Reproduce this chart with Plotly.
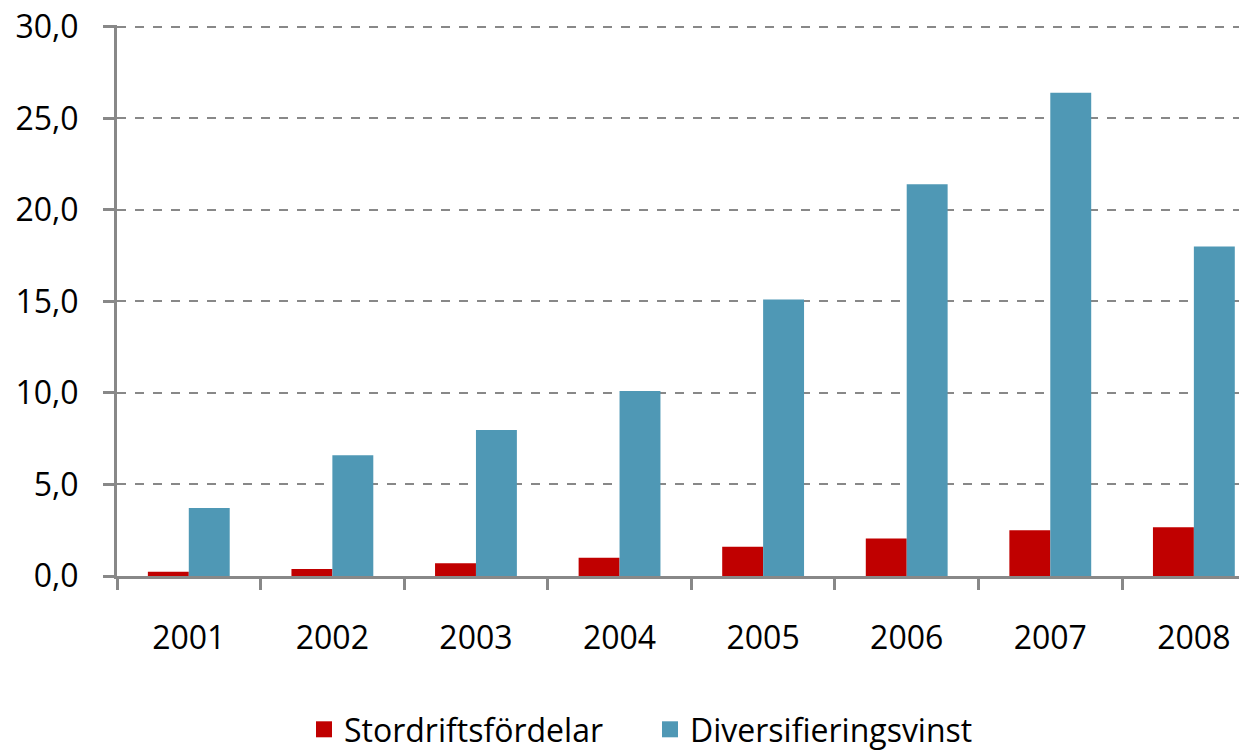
import plotly.graph_objects as go

years = ["2001", "2002", "2003", "2004", "2005", "2006", "2007", "2008"]
stordrift = [0.23, 0.38, 0.69, 1.0, 1.6, 2.05, 2.5, 2.66]
diversifiering = [3.72, 6.6, 7.98, 10.1, 15.1, 21.4, 26.4, 18.0]
series_names = ["Stordriftsfördelar", "Diversifieringsvinst"]
series_colors = ["#C00000", "#4F98B5"]
y_ticks = [0, 5, 10, 15, 20, 25, 30]

font_family = "Open Sans"
grey = "#888888"

# page body has an 8px default margin; size the figure to compensate
W, H = 1239, 743
L, T, B = 109, 17, 175
PLOT_W = W - L
PLOT_H = H - T - B

fig = go.Figure()
for vals, name, col in zip([stordrift, diversifiering], series_names, series_colors):
    fig.add_trace(go.Bar(x=years, y=vals, name=name, showlegend=False,
                         marker=dict(color=col, line=dict(width=0))))
# legend entries with larger square swatches
for name, col in zip(series_names, series_colors):
    fig.add_trace(go.Scatter(x=[None], y=[None], mode="markers", name=name,
                             marker=dict(symbol="square", size=20, color=col)))

fig.update_layout(
    width=W, height=H,
    margin=dict(l=L, r=0, t=T, b=B, autoexpand=False),
    paper_bgcolor="white", plot_bgcolor="white",
    barmode="group", bargap=0.43, bargroupgap=0,
    separators=",.",
    font=dict(family=font_family, size=32, color="black"),
    showlegend=True,
    legend=dict(orientation="h", x=(304 - 117) / PLOT_W, xanchor="left",
                y=-126 / PLOT_H, yanchor="top",
                font=dict(size=32), traceorder="normal",
                entrywidth=301, entrywidthmode="pixels"),
)
fig.update_xaxes(
    type="category", range=[-0.5, 7.37], automargin=False,
    showline=True, linecolor=grey, linewidth=3,
    ticks="outside", tickson="boundaries", ticklen=11, tickwidth=3, tickcolor=grey,
    showgrid=False, ticklabelstandoff=32, ticklabeloverflow="allow",
    tickfont=dict(size=32),
)
fig.update_yaxes(
    range=[0, 30.1], tickvals=y_ticks, tickformat=".1f", automargin=False,
    showline=True, linecolor=grey, linewidth=3,
    ticks="outside", ticklen=11, tickwidth=3, tickcolor=grey,
    showgrid=True, gridcolor=grey, gridwidth=2, griddash="dash",
    zeroline=False, ticklabelstandoff=18, ticklabeloverflow="allow",
    tickfont=dict(size=32),
)

fig.write_html("out.html")
